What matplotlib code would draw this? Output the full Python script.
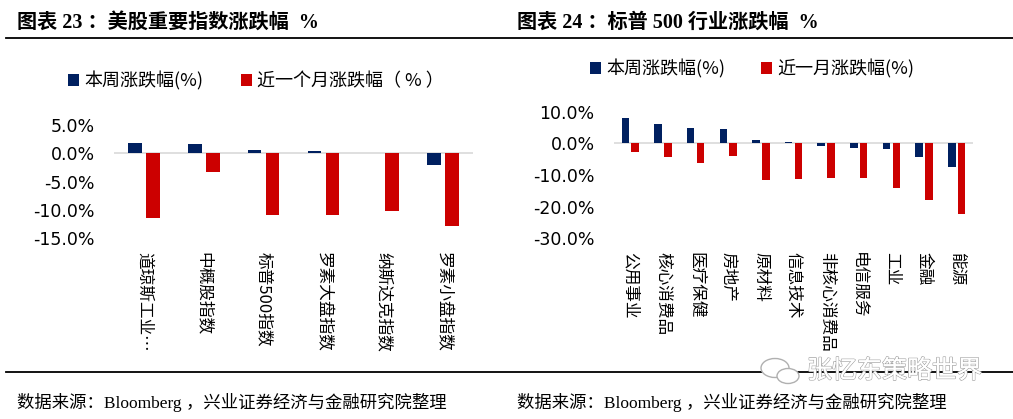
import matplotlib
matplotlib.use("Agg")
import matplotlib.pyplot as plt
from matplotlib.lines import Line2D
from matplotlib.patches import Ellipse
import matplotlib.patheffects as pe
import numpy as np

plt.rcParams['font.family'] = ['Noto Sans CJK SC', 'DejaVu Sans']

# ---------------- data ----------------
left_categories = ["道琼斯工业…", "中概股指数", "标普500指数", "罗素大盘指数", "纳斯达克指数", "罗素小盘指数"]
left_week = [1.86, 1.7, 0.63, 0.46, 0.0, -2.05]
left_month = [-11.5, -3.3, -11.0, -11.0, -10.3, -12.9]
left_ticks = [5, 0, -5, -10, -15]
left_ticklabels = ["5.0%", "0.0%", "-5.0%", "-10.0%", "-15.0%"]

right_categories = ["公用事业", "核心消费品", "医疗保健", "房地产", "原材料", "信息技术",
                    "非核心消费品", "电信服务", "工业", "金融", "能源"]
right_week = [8.1, 6.1, 4.9, 4.5, 1.0, 0.4, -0.85, -1.5, -1.8, -4.3, -7.5]
right_month = [-2.8, -4.3, -6.2, -4.0, -11.6, -11.3, -11.0, -11.0, -14.2, -18.0, -22.4]
right_ticks = [10, 0, -10, -20, -30]
right_ticklabels = ["10.0%", "0.0%", "-10.0%", "-20.0%", "-30.0%"]

BLUE = "#002060"
RED = "#CC0000"

W, H = 1013, 419
fig = plt.figure(figsize=(W / 100, H / 100), dpi=100)


def fx(px):
    return px / W


def fy(py):
    return 1 - py / H


def draw_panel(rect, cats, week, month, ticks, ticklabels, ylim, legend_labels, legend_xy, colspace):
    ax = fig.add_axes(rect)
    x = np.arange(len(cats))
    w = 0.23
    b1 = ax.bar(x - 0.15, week, width=w, color=BLUE)
    b2 = ax.bar(x + 0.15, month, width=w, color=RED)
    ax.axhline(0, color="#d9d9d9", lw=1.2, zorder=0)
    ax.set_xlim(-0.5, len(cats) - 0.5)
    ax.set_ylim(*ylim)
    ax.set_yticks(ticks)
    ax.set_yticklabels(ticklabels, fontsize=12.5, family=["DejaVu Sans"])
    ax.set_xticks(x)
    ax.set_xticklabels(cats, rotation=-90, ha="center", va="top", fontsize=12)
    ax.tick_params(axis="both", length=0)
    ax.tick_params(axis="x", pad=10)
    ax.tick_params(axis="y", pad=14)
    for s in ax.spines.values():
        s.set_visible(False)
    ax.legend([b1, b2], legend_labels, loc="center left", bbox_to_anchor=legend_xy,
              bbox_transform=fig.transFigure, ncol=2, frameon=False,
              prop={"size": 13, "family": ["Noto Sans CJK SC", "DejaVu Sans"]},
              handlelength=0.6, handleheight=0.6, handletextpad=0.3,
              columnspacing=colspace, borderpad=0, borderaxespad=0)
    return ax


draw_panel([fx(114), fy(238), fx(359), (238 - 125) / H], left_categories, left_week, left_month,
           left_ticks, left_ticklabels, (-15, 5), ["本周涨跌幅(%)", "近一个月涨跌幅（ % ）"],
           (fx(68), fy(81)), 2.1)
draw_panel([fx(614), fy(238), fx(359), (238 - 112) / H], right_categories, right_week, right_month,
           right_ticks, right_ticklabels, (-30, 10), ["本周涨跌幅(%)", "近一月涨跌幅(%)"],
           (fx(590), fy(69)), 2.0)

title_fam = ["Liberation Serif", "Noto Sans CJK SC"]
fig.text(fx(17), fy(23), "图表 23 ：美股重要指数涨跌幅  %", fontsize=14.5, fontweight="bold",
         family=title_fam, va="center", ha="left")
fig.text(fx(517), fy(23), "图表 24 ：标普 500 行业涨跌幅  %", fontsize=14.5, fontweight="bold",
         family=title_fam, va="center", ha="left")

src = "数据来源：Bloomberg ，兴业证券经济与金融研究院整理"
fig.text(fx(17), fy(402), src, fontsize=12.5, family=title_fam, va="center", ha="left")
fig.text(fx(517), fy(402), src, fontsize=12.5, family=title_fam, va="center", ha="left")

# separator lines
fig.add_artist(Line2D([fx(6), 1], [fy(38), fy(38)], color="black", lw=1.3, transform=fig.transFigure))
fig.add_artist(Line2D([fx(6), 1], [fy(372), fy(372)], color="black", lw=1.3, transform=fig.transFigure))

# watermark (icon + outlined text)
fig.add_artist(Ellipse((fx(775), fy(368)), fx(28), 19 / H, facecolor="white", edgecolor="#b0b0b0",
                       lw=1.0, transform=fig.transFigure, zorder=5))
fig.add_artist(Ellipse((fx(788), fy(376)), fx(22), 15 / H, facecolor="white", edgecolor="#b0b0b0",
                       lw=1.0, transform=fig.transFigure, zorder=6))
t = fig.text(fx(807), fy(371), "张忆东策略世界", fontsize=18, color="white", va="center", ha="left",
             fontweight="light", zorder=7)
t.set_path_effects([pe.withStroke(linewidth=1.1, foreground="#a8a8a8"), pe.Normal()])

fig.savefig("out.png", dpi=100)
